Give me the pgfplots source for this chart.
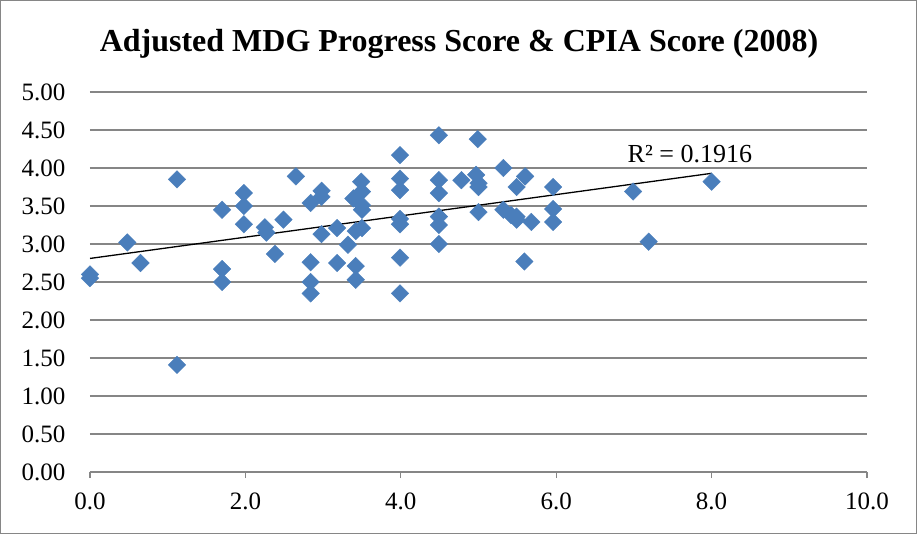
\documentclass[border=0pt]{standalone}
\usepackage{pgfplots}
\pgfplotsset{compat=1.18}
\usepackage{fontspec}
\setmainfont{Liberation Serif}
\usetikzlibrary{calc}
\definecolor{mk}{RGB}{74,126,187}
\definecolor{gr}{RGB}{134,134,134}
\pgfplotstableread{
x y
0.00 2.55
0.00 2.60
0.48 3.02
0.65 2.75
1.12 3.85
1.12 1.41
1.70 3.45
1.70 2.67
1.70 2.50
1.98 3.67
1.98 3.50
1.98 3.26
2.25 3.22
2.27 3.15
2.38 2.87
2.49 3.32
2.65 3.89
2.84 3.54
2.98 3.70
2.98 3.62
2.84 2.76
2.84 2.50
2.84 2.35
2.98 3.13
3.18 3.21
3.18 2.75
3.32 2.99
3.42 2.71
3.42 2.53
3.49 3.82
3.50 3.69
3.39 3.60
3.50 3.51
3.50 3.45
3.50 3.21
3.42 3.17
3.99 4.17
3.99 3.86
3.99 3.71
3.99 3.33
3.99 3.26
3.99 2.82
3.99 2.35
4.49 4.43
4.49 3.84
4.49 3.67
4.49 3.36
4.49 3.25
4.49 3.00
4.78 3.84
4.99 4.38
4.97 3.91
5.00 3.80
5.00 3.75
5.00 3.42
5.32 4.00
5.32 3.45
5.42 3.38
5.49 3.36
5.49 3.32
5.60 3.89
5.49 3.75
5.68 3.29
5.59 2.77
5.96 3.75
5.96 3.46
5.96 3.29
6.99 3.69
7.19 3.03
8.00 3.82
}\pts
\begin{document}
\begin{tikzpicture}
\begin{axis}[name=ax, at={(0,0)}, anchor=south west,
  scale only axis, width=777bp, height=380bp,
  xmin=0, xmax=10, ymin=0, ymax=5,
  xtick={0,2,4,6,8,10},
  ytick={0,0.5,1,1.5,2,2.5,3,3.5,4,4.5,5},
  axis x line*=bottom, axis y line*=left,
  x axis line style={gr, line width=1.2bp, -},
  y axis line style={draw=none},
  tick align=outside,
  xtick style={gr, line width=1.2bp},
  ytick style={draw=none},
  major tick length=6bp,
  ymajorgrids, grid style={gr, line width=1.2bp},
  /pgf/number format/assume math mode=true,
  x tick label style={/pgf/number format/.cd, fixed, fixed zerofill, precision=1, /tikz/.cd, yshift=-11bp},
  y tick label style={/pgf/number format/.cd, fixed, fixed zerofill, precision=2, /tikz/.cd, xshift=-15bp},
  tick label style={font=\fontsize{25bp}{27bp}\selectfont, black},
  clip=false]
\addplot[only marks, mark=square*, mark size=6.2bp,
  mark options={rotate=45, fill=mk, draw=mk}] table[x=x, y=y] {\pts};
\addplot[black, line width=1.3bp] coordinates {(0,2.81) (8,3.93)};
\node[font=\fontsize{26bp}{28bp}\selectfont, anchor=base] at (axis cs:7.72,4.07) {R² = 0.1916};
\end{axis}
\node[font=\fontsize{32bp}{34bp}\selectfont\bfseries, anchor=base] at ($(ax.south west)+(369bp,420bp)$) {Adjusted MDG Progress Score \& CPIA Score (2008)};
\draw[gr, line width=1bp] ($(ax.south west)+(-89.5bp,-61.5bp)$) rectangle ($(ax.south west)+(826.5bp,471.5bp)$);
\useasboundingbox ($(ax.south west)+(-90bp,-62bp)$) rectangle ($(ax.south west)+(827bp,472bp)$);
\end{tikzpicture}
\end{document}
